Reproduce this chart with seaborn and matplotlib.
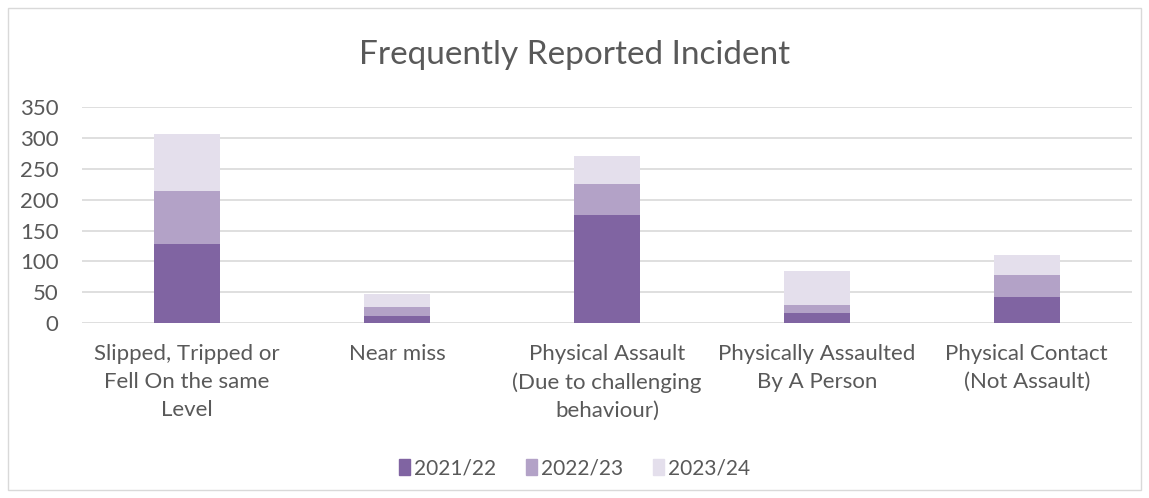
import matplotlib
matplotlib.use("Agg")
import matplotlib.pyplot as plt
import matplotlib.patches as mpatches
import numpy as np
import pandas as pd
import seaborn as sns

# 数据
categories = [
    "Slipped, Tripped or\nFell On the same\nLevel",
    "Near miss",
    "Physical Assault\n(Due to challenging\nbehaviour)",
    "Physically Assaulted\nBy A Person",
    "Physical Contact\n(Not Assault)",
]
years = ["2021/22", "2022/23", "2023/24"]
v_2122 = [128, 11, 175, 17, 42]
v_2223 = [86, 16, 51, 12, 36]
v_2324 = [92, 21, 44, 55, 32]
colors = ["#8064A2", "#B3A2C7", "#E4DFEC"]

sns.set_theme(style="white")
plt.rcParams["font.family"] = ["Lato", "DejaVu Sans"]
text_color = "#595959"

series = [v_2122, v_2223, v_2324]
cum = np.cumsum(np.array(series), axis=0)

fig = plt.figure(figsize=(11.49, 4.98), dpi=100)
ax = fig.add_axes([0.0714, 0.351, 0.9136, 0.434])

# 堆叠：从总和最高的一层开始画
for i in reversed(range(len(years))):
    df = pd.DataFrame({"cat": categories, "val": cum[i]})
    sns.barplot(data=df, x="cat", y="val", color=colors[i], width=0.314,
                saturation=1, linewidth=0, edgecolor="none", ax=ax, zorder=3)

ax.set_ylim(0, 350)
ax.set_yticks(range(0, 351, 50))
ax.set_xlim(-0.5, 4.5)
ax.yaxis.grid(True, color="#D9D9D9", linewidth=1.2, zorder=0)
ax.set_axisbelow(True)
for s in ax.spines.values():
    s.set_visible(False)
ax.set_xlabel("")
ax.set_ylabel("")
ax.tick_params(axis="y", length=0, pad=17, labelsize=16, labelcolor=text_color)
ax.tick_params(axis="x", length=0, pad=15, labelsize=16, labelcolor=text_color)
for lbl in ax.get_xticklabels():
    lbl.set_linespacing(1.5)
for lbl in ax.get_yticklabels():
    lbl.set_horizontalalignment("right")

fig.text(0.5, 0.89, "Frequently Reported Incident", ha="center", va="center",
         fontsize=24, color=text_color)

handles = [mpatches.Patch(color=c, label=y) for c, y in zip(colors, years)]
fig.legend(handles=handles, loc="center", bbox_to_anchor=(0.5, 0.06), ncol=3,
           frameon=False, fontsize=15, handlelength=0.55, handleheight=0.8,
           handletextpad=0.2, columnspacing=1.4, labelcolor=text_color)

# 外框
fig.patches.append(mpatches.Rectangle((0.007, 0.016), 0.986, 0.968,
                                      transform=fig.transFigure, fill=False,
                                      edgecolor="#D9D9D9", linewidth=1))

fig.savefig("out.png", dpi=100)
